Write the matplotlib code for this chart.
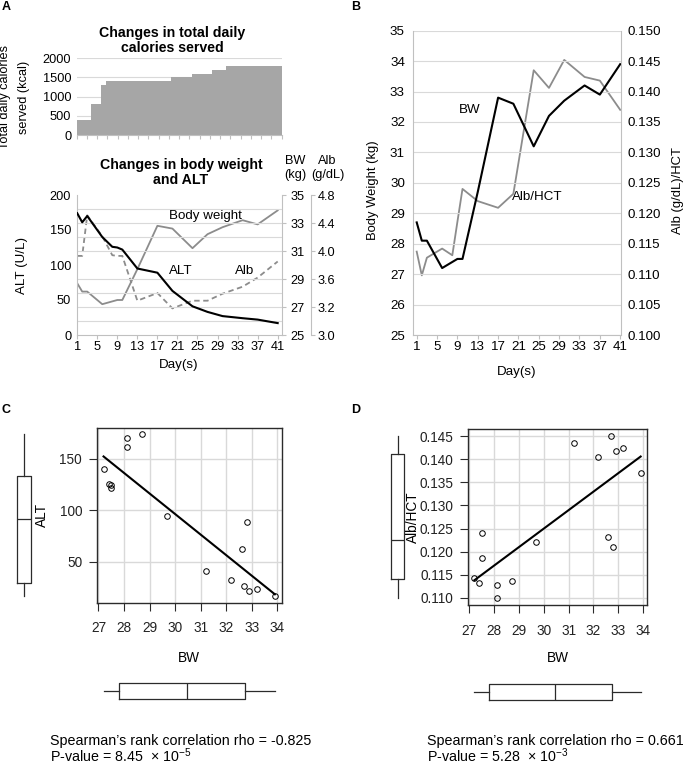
import numpy as np
import matplotlib
matplotlib.use("Agg")
import matplotlib.pyplot as plt

plt.rcParams['font.family'] = ['Liberation Sans', 'DejaVu Sans']
plt.rcParams['mathtext.fontset'] = 'custom'
plt.rcParams['mathtext.rm'] = 'Liberation Sans'
plt.rcParams['mathtext.it'] = 'Liberation Sans'

# data
days = [1, 2, 3, 6, 8, 9, 10, 13, 17, 20, 24, 27, 30, 34, 37, 41]
bw = [28.7, 28.1, 28.1, 27.2, 27.4, 27.5, 27.5, 29.7, 32.8, 32.6, 31.2, 32.2, 32.7, 33.2, 32.9, 33.9]
alt = [174, 161, 170, 140, 126, 125, 122, 95, 89, 63, 41, 33, 27, 24, 22, 17]
alb = [3.93, 3.93, 4.51, 4.21, 3.94, 3.93, 3.93, 3.29, 3.40, 3.18, 3.29, 3.29, 3.39, 3.49, 3.62, 3.85]
alb_hct = [0.1137, 0.1098, 0.1127, 0.1142, 0.1131, 0.1186, 0.1240, 0.1220, 0.1209, 0.1232,
           0.1435, 0.1406, 0.1452, 0.1424, 0.1418, 0.1370]

cal_edges = [1, 3.75, 5.75, 6.75, 9.75, 19.5, 23.5, 27.5, 30.25, 41]
cal_values = [400, 800, 1300, 1420, 1400, 1500, 1600, 1700, 1800]

day_ticks = list(range(1, 42, 4))
alb_ticks = [2.8, 3.2, 3.6, 4.0, 4.4, 4.8]
alb_labels = ["3.0", "3.2", "3.6", "4.0", "4.4", "4.8"]
rho_c, p_c = "-0.825", "8.45  \u00d7 10$^{-5}$"
rho_d, p_d = "0.661", "5.28  \u00d7 10$^{-3}$"

W, H = 685, 764
fig = plt.figure(figsize=(W / 100, H / 100), dpi=100)

def box(l, t, r, b):
    return [l / W, 1 - b / H, (r - l) / W, (b - t) / H]

def ftext(x, y, s, **kw):
    kw.setdefault('ha', 'center')
    kw.setdefault('va', 'center')
    fig.text(x / W, 1 - y / H, s, **kw)

spine_c = '#c0c0c0'
grid_c = '#d9d9d9'
a_fs = 9.2
b_fs = 9.6

# ---------------- A top: calories
ax0 = fig.add_axes(box(76.7, 58.3, 281.5, 135))
ax0.stairs(cal_values, cal_edges, fill=True, color='#a6a6a6', baseline=0)
ax0.set_xlim(cal_edges[0], cal_edges[-1])
ax0.set_ylim(0, 2000)
ax0.set_yticks(range(0, 2001, 500))
ax0.set_xticks(range(1, 42, 2))
ax0.set_xticklabels([])
ax0.grid(axis='y', color=grid_c, lw=0.8)
ax0.set_axisbelow(True)
for s in ['top', 'right', 'left']:
    ax0.spines[s].set_visible(False)
ax0.spines['bottom'].set_color(spine_c)
ax0.tick_params(axis='y', length=0, labelsize=a_fs, pad=4)
ax0.tick_params(axis='x', length=3, color=spine_c)
ftext(172, 33, "Changes in total daily", fontsize=10.2, fontweight='bold')
ftext(172, 48, "calories served", fontsize=10.2, fontweight='bold')
ftext(5, 97, "Total daily calories", fontsize=a_fs, rotation=90)
ftext(24, 97, "served (kcal)", fontsize=a_fs, rotation=90)

# ---------------- A bottom: ALT, BW, Alb
ax1 = fig.add_axes(box(76.7, 195, 281.7, 335))
ax1.plot(days, alt, color='black', lw=1.5, zorder=5)
ax1.set_xlim(0.9, 41.8)
ax1.set_ylim(0, 200)
ax1.set_yticks(range(0, 201, 50))
ax1.set_yticks(range(0, 201, 20), minor=True)
ax1.grid(axis='y', which='minor', color=grid_c, lw=0.8)
ax1.set_xticks(day_ticks)
ax1.tick_params(axis='y', which='both', length=0, labelsize=a_fs, pad=4)
ax1.tick_params(axis='x', length=3, color=spine_c, labelsize=a_fs, pad=1.5)
for s in ['top', 'right']:
    ax1.spines[s].set_visible(False)
ax1.spines['bottom'].set_color(spine_c)
ax1.spines['left'].set_color(spine_c)

ax1b = ax1.twinx()
ax1b.plot(days, bw, color='#8c8c8c', lw=1.3)
ax1b.set_ylim(25, 35)
ax1b.set_yticks(range(25, 36, 2))
ax1b.tick_params(axis='y', length=3, color=spine_c, labelsize=a_fs, pad=3)
for s in ['top', 'left', 'bottom']:
    ax1b.spines[s].set_visible(False)
ax1b.spines['right'].set_color(spine_c)

ax1c = ax1.twinx()
ax1c.plot(days, alb, color='#8c8c8c', lw=1.3, ls=(0, (3, 2)))
ax1c.set_ylim(2.8, 4.8)
ax1c.set_yticks(alb_ticks)
ax1c.set_yticklabels(alb_labels)
ax1c.spines['right'].set_position(('outward', 21))
ax1c.tick_params(axis='y', length=3, color=spine_c, labelsize=a_fs, pad=2)
for s in ['top', 'left', 'bottom']:
    ax1c.spines[s].set_visible(False)
ax1c.spines['right'].set_color(spine_c)
ax1.set_zorder(3)
ax1.patch.set_visible(False)

ftext(181, 165, "Changes in body weight", fontsize=10.2, fontweight='bold')
ftext(181, 179.5, "and ALT", fontsize=10.2, fontweight='bold')
ftext(295, 161.5, "BW", fontsize=a_fs)
ftext(295, 175, "(kg)", fontsize=a_fs)
ftext(327, 161.5, "Alb", fontsize=a_fs)
ftext(328, 175, "(g/dL)", fontsize=a_fs)
ftext(205, 216.5, "Body weight", fontsize=9.6)
ftext(181, 271.5, "ALT", fontsize=9.6)
ftext(245, 271.5, "Alb", fontsize=9.6)
ftext(21.7, 265, "ALT (U/L)", fontsize=9.6, rotation=90)
ftext(179, 365, "Day(s)", fontsize=9.6)

# ---------------- B
ax2 = fig.add_axes(box(413.3, 30.7, 620.7, 335))
ax2.plot(days, bw, color='black', lw=1.5, zorder=5)
ax2.set_xlim(0.33, 41.1)
ax2.set_ylim(25, 35)
ax2.set_yticks(range(25, 36))
ax2.grid(axis='y', color=grid_c, lw=0.8)
ax2.set_xticks(day_ticks)
ax2.tick_params(axis='y', length=0, labelsize=b_fs, pad=6)
ax2.tick_params(axis='x', length=3, color=spine_c, labelsize=b_fs, pad=1)
for s in ['top', 'right']:
    ax2.spines[s].set_visible(False)
ax2.spines['bottom'].set_color(spine_c)
ax2.spines['left'].set_color(spine_c)

ax2b = ax2.twinx()
ax2b.plot(days, alb_hct, color='#8c8c8c', lw=1.3)
ax2b.set_ylim(0.100, 0.150)
ax2b.set_yticks(np.arange(0.100, 0.1501, 0.005))
ax2b.set_yticklabels(["%.3f" % v for v in np.arange(0.100, 0.1501, 0.005)])
ax2b.tick_params(axis='y', length=0, labelsize=b_fs, pad=5)
for s in ['top', 'left', 'bottom']:
    ax2b.spines[s].set_visible(False)
ax2b.spines['right'].set_color(spine_c)
ax2.set_zorder(3)
ax2.patch.set_visible(False)

ftext(470, 110, "BW", fontsize=9.6)
ftext(537, 197, "Alb/HCT", fontsize=9.6)
ftext(373, 190, "Body Weight (kg)", fontsize=9.4, rotation=90)
ftext(678, 190, "Alb (g/dL)/HCT", fontsize=9.4, rotation=90)
ftext(517, 372, "Day(s)", fontsize=9.6)

# ---------------- C and D scatter panels
def lims(v):
    v = np.asarray(v)
    span = v.max() - v.min()
    return v.min() - 0.04 * span, v.max() + 0.04 * span

def stats(v):
    v = np.sort(np.asarray(v))
    n = len(v)
    return [dict(med=np.median(v), q1=np.median(v[:(n + 1) // 2]), q3=np.median(v[n // 2:]),
                 whislo=v.min(), whishi=v.max(), fliers=[])]

dark = '#2b2b2b'
bprops = dict(boxprops=dict(color=dark, lw=0.9), medianprops=dict(color=dark, lw=0.9),
              whiskerprops=dict(color=dark, lw=0.9), showcaps=False, showfliers=False)

def no_clip(parts):
    for arts in parts.values():
        for a in arts:
            a.set_clip_on(False)

def scatter_panel(l, t, r, b, yv, yticks, yfmt, ylab, ylab_x, bl, br, hb_t, hb_b):
    ax = fig.add_axes(box(l, t, r, b))
    ax.plot(bw, yv, 'o', mfc='none', mec='black', ms=4, mew=0.7, zorder=4)
    coef = np.polyfit(bw, yv, 1)
    xs = np.array([min(bw), max(bw)])
    ax.plot(xs, np.polyval(coef, xs), color='black', lw=1.5, zorder=5)
    ax.set_xlim(lims(bw))
    ax.set_ylim(lims(yv))
    ax.set_xticks(range(27, 35))
    ax.set_yticks(yticks)
    ax.set_yticklabels([yfmt % v for v in yticks])
    ax.grid(color=grid_c, lw=1.0)
    ax.set_axisbelow(True)
    for s in ax.spines.values():
        s.set_color(dark)
        s.set_linewidth(1.0)
    ax.tick_params(length=5.5, color=dark, labelsize=9.8, labelcolor='#222222')
    ax.tick_params(axis='x', pad=8)
    ax.tick_params(axis='y', pad=5)
    ftext(ylab_x, (t + b) / 2, ylab, fontsize=9.8, rotation=90)
    ftext((l + r) / 2, 657.7, "BW", fontsize=9.8)

    axv = fig.add_axes(box(bl, t, br, b))
    no_clip(axv.bxp(stats(yv), positions=[1], widths=1.0, **bprops))
    axv.set_xlim(0.5, 1.5)
    axv.set_ylim(lims(yv))
    axv.axis('off')

    axh = fig.add_axes(box(l, hb_t, r, hb_b))
    no_clip(axh.bxp(stats(bw), positions=[1], widths=1.0, orientation='horizontal', **bprops))
    axh.set_ylim(0.5, 1.5)
    axh.set_xlim(lims(bw))
    axh.axis('off')

scatter_panel(96.7, 427.5, 281.7, 602.5, alt, [50, 100, 150], "%d", "ALT", 41.7,
              17.3, 31, 682.7, 698.7)
scatter_panel(467.7, 429, 647.3, 605, alb_hct, list(np.arange(0.110, 0.1451, 0.005)), "%.3f",
              "Alb/HCT", 412.7, 390.7, 404.3, 684, 699.5)

ftext(50, 740.7, "Spearman\u2019s rank correlation rho = " + rho_c, fontsize=10.3, ha='left')
ftext(50, 756, "P-value = " + p_c, fontsize=10.3, ha='left')
ftext(427, 740.7, "Spearman\u2019s rank correlation rho = " + rho_d, fontsize=10.3, ha='left')
ftext(427, 756, "P-value = " + p_d, fontsize=10.3, ha='left')

for lab, x, y in [("A", 6, 7), ("B", 356, 7), ("C", 6, 410), ("D", 356, 410)]:
    ftext(x, y, lab, fontsize=9, fontweight='bold')

fig.savefig("out.png", dpi=100)
